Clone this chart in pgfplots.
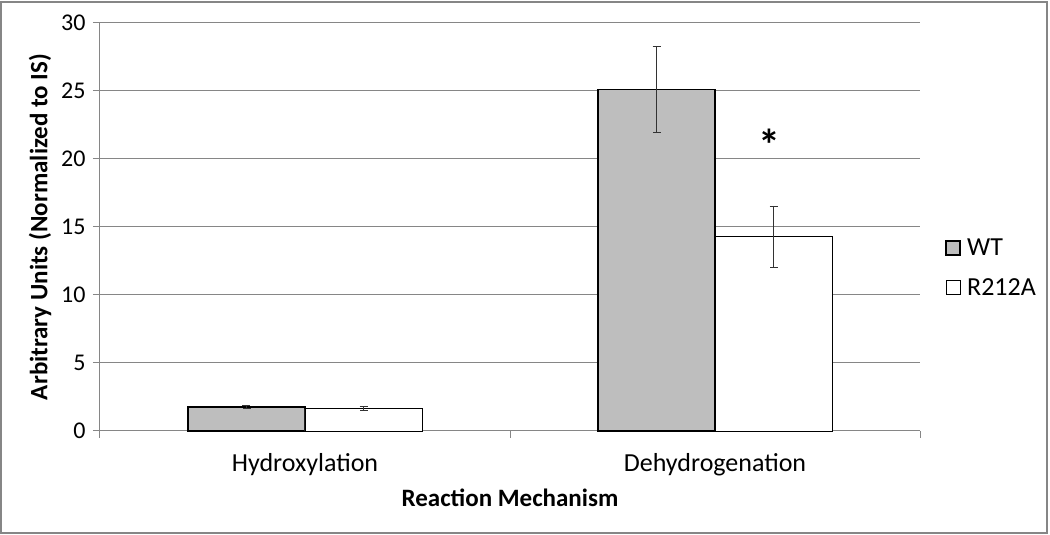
\documentclass[border=0pt]{standalone}
\usepackage{fontspec}
\setmainfont{Carlito}
\usepackage{pgfplots}
\pgfplotsset{compat=1.18}
\definecolor{gridgray}{RGB}{134,134,134}
\definecolor{wtfill}{RGB}{190,190,190}
\begin{document}
\begin{tikzpicture}
\begin{axis}[
  scale only axis,
  width=820pt, height=408pt,
  xmin=-0.5, xmax=1.5,
  ymin=0, ymax=30,
  ybar=0pt, bar width=117pt,
  ytick={0,5,...,30},
  xtick={-0.5,0.5,1.5},
  x tick label as interval=true,
  xticklabels={Hydroxylation,Dehydrogenation},
  axis x line*=bottom,
  axis y line*=left,
  axis line style={gridgray, line width=1pt},
  tick style={gridgray, line width=1pt},
  tick align=outside,
  major tick length=7pt,
  ymajorgrids=true,
  grid style={gridgray, line width=1pt},
  /pgf/number format/assume math mode=true,
  yticklabel style={font=\fontsize{24}{28}\selectfont, xshift=-4pt},
  xticklabel style={font=\fontsize{26}{30}\selectfont, yshift=-12pt},
  xlabel={\textbf{Reaction Mechanism}},
  ylabel={\textbf{Arbitrary Units (Normalized to IS)}},
  label style={font=\fontsize{25}{30}\selectfont},
  xlabel style={yshift=-6pt},
  ylabel style={yshift=3pt},
  legend style={draw=none, fill=none, at={(1.027,0.40)}, anchor=west,
    font=\fontsize{26}{30}\selectfont, row sep=17pt,
    legend cell align=left},
  legend image code/.code={\draw[#1] (0pt,-7pt) rectangle (14pt,7pt); \path[draw=none,fill=none] (0pt,0pt) -- (19pt,0pt);},
  clip=false,
  error bars/error bar style={line width=0.8pt, black!80},
  error bars/error mark options={rotate=90, mark size=4pt, line width=0.8pt, black!80},
]
\addplot[fill=wtfill, draw=black, line width=1.6pt,
  error bars/.cd, y dir=both, y explicit]
  coordinates {(0,1.76) +- (0,0.12) (1,25.1) +- (0,3.15)};
\addlegendentry{WT}
\addplot[fill=white, draw=black, line width=0.8pt,
  error bars/.cd, y dir=both, y explicit]
  coordinates {(0,1.65) +- (0,0.15) (1,14.3) +- (0,2.25)};
\addlegendentry{R212A}
\node[font=\fontsize{44}{48}\selectfont\bfseries] at (axis cs:1.134,21.05) {*};
\coordinate (O) at (rel axis cs:0,0);
\end{axis}
\draw[gridgray, line width=1.5pt] (O) ++(-99pt,-102pt) rectangle ++(1046pt,531pt);
\pgfresetboundingbox
\path[use as bounding box] (O) ++(-100pt,-104pt) rectangle ++(1050pt,535pt);
\end{tikzpicture}
\end{document}
